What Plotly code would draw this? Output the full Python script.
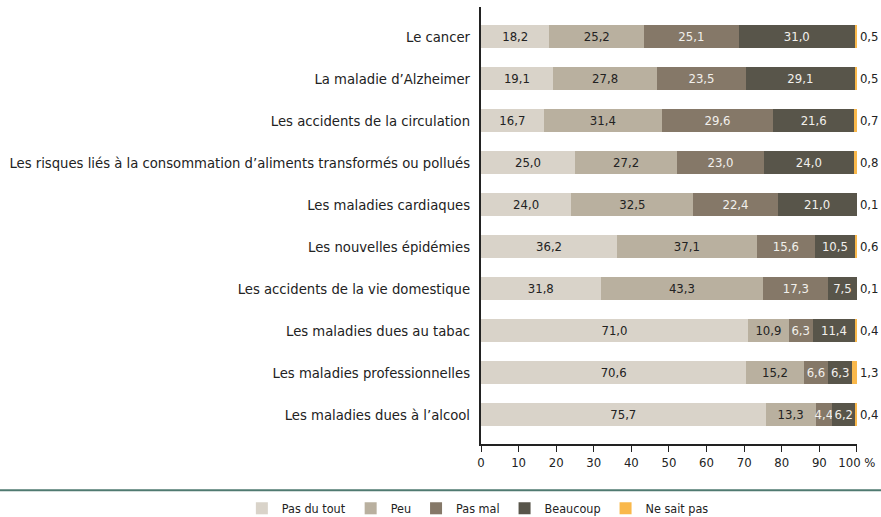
import plotly.graph_objects as go

categories = [
    "Le cancer",
    "La maladie d'Alzheimer",
    "Les accidents de la circulation",
    "Les risques liés à la consommation d'aliments transformés ou pollués",
    "Les maladies cardiaques",
    "Les nouvelles épidémies",
    "Les accidents de la vie domestique",
    "Les maladies dues au tabac",
    "Les maladies professionnelles",
    "Les maladies dues à l'alcool",
]
categories = [c.replace("'", "\u2019") for c in categories]

pas_du_tout = [18.2, 19.1, 16.7, 25.0, 24.0, 36.2, 31.8, 71.0, 70.6, 75.7]
peu = [25.2, 27.8, 31.4, 27.2, 32.5, 37.1, 43.3, 10.9, 15.2, 13.3]
pas_mal = [25.1, 23.5, 29.6, 23.0, 22.4, 15.6, 17.3, 6.3, 6.6, 4.4]
beaucoup = [31.0, 29.1, 21.6, 24.0, 21.0, 10.5, 7.5, 11.4, 6.3, 6.2]
ne_sait_pas = [0.5, 0.5, 0.7, 0.8, 0.1, 0.6, 0.1, 0.4, 1.3, 0.4]

series_names = ["Pas du tout", "Peu", "Pas mal", "Beaucoup", "Ne sait pas"]
tick_vals = [0, 10, 20, 30, 40, 50, 60, 70, 80, 90, 100]
tick_text = ["0", "10", "20", "30", "40", "50", "60", "70", "80", "90", "100 %"]

FONT = "DejaVu Sans Condensed, Liberation Sans Narrow, sans-serif"
colors = ["#d9d3c9", "#b9b09f", "#857868", "#58554a", "#f9b84b"]
text_colors = ["#222222", "#222222", "#f2f0ec", "#f2f0ec", "#222222"]


def fmt(v):
    return f"{v:.1f}".replace(".", ",")


fig = go.Figure()
all_series = [pas_du_tout, peu, pas_mal, beaucoup, ne_sait_pas]
for i, (name, vals) in enumerate(zip(series_names, all_series)):
    last = i == len(all_series) - 1
    fig.add_trace(go.Bar(
        y=categories,
        x=vals,
        name=name,
        orientation="h",
        marker=dict(color=colors[i], line=dict(width=0)),
        text=[fmt(v) for v in vals],
        textposition="outside" if last else "inside",
        insidetextanchor="middle",
        textangle=0,
        constraintext="none",
        cliponaxis=False,
        textfont=dict(family=FONT, size=13, color=text_colors[i]),
        hoverinfo="skip",
    ))

fig.update_layout(
    barmode="stack",
    bargap=0.45,
    width=881,
    height=517,
    margin=dict(l=481, r=24, t=7, b=73, autoexpand=False),
    plot_bgcolor="white",
    paper_bgcolor="white",
    font=dict(family=FONT, size=13, color="#222222"),
    showlegend=True,
    legend=dict(
        orientation="h",
        x=-0.636,
        xanchor="left",
        y=-0.148,
        yanchor="middle",
        bgcolor="rgba(0,0,0,0)",
        font=dict(family=FONT, size=12.5, color="#222222"),
        traceorder="normal",
        itemwidth=30,
    ),
    xaxis=dict(
        range=[0, 100.02],
        tickvals=tick_vals,
        ticktext=tick_text,
        showgrid=False,
        zeroline=False,
        showline=True,
        linecolor="#222222",
        linewidth=1.5,
        ticks="outside",
        ticklen=6,
        tickcolor="#222222",
        tickwidth=1,
        tickfont=dict(family=FONT, size=13, color="#222222"),
        automargin=False,
        fixedrange=True,
    ),
    yaxis=dict(
        autorange=False,
        range=[9.7, -0.7],
        showgrid=False,
        zeroline=False,
        showline=True,
        linecolor="#222222",
        linewidth=2,
        ticks="",
        ticklabelstandoff=6,
        tickfont=dict(family=FONT, size=14.7, color="#222222"),
        automargin=False,
        fixedrange=True,
    ),
    shapes=[dict(
        type="line", xref="paper", yref="paper",
        x0=-1.5, x1=1.5, y0=-0.106, y1=-0.106,
        line=dict(color="#4f7a70", width=2),
    )],
)

fig.write_html(
    "out.html",
    config={"displayModeBar": False, "staticPlot": True},
    post_script="document.body.style.margin='0';",
)
